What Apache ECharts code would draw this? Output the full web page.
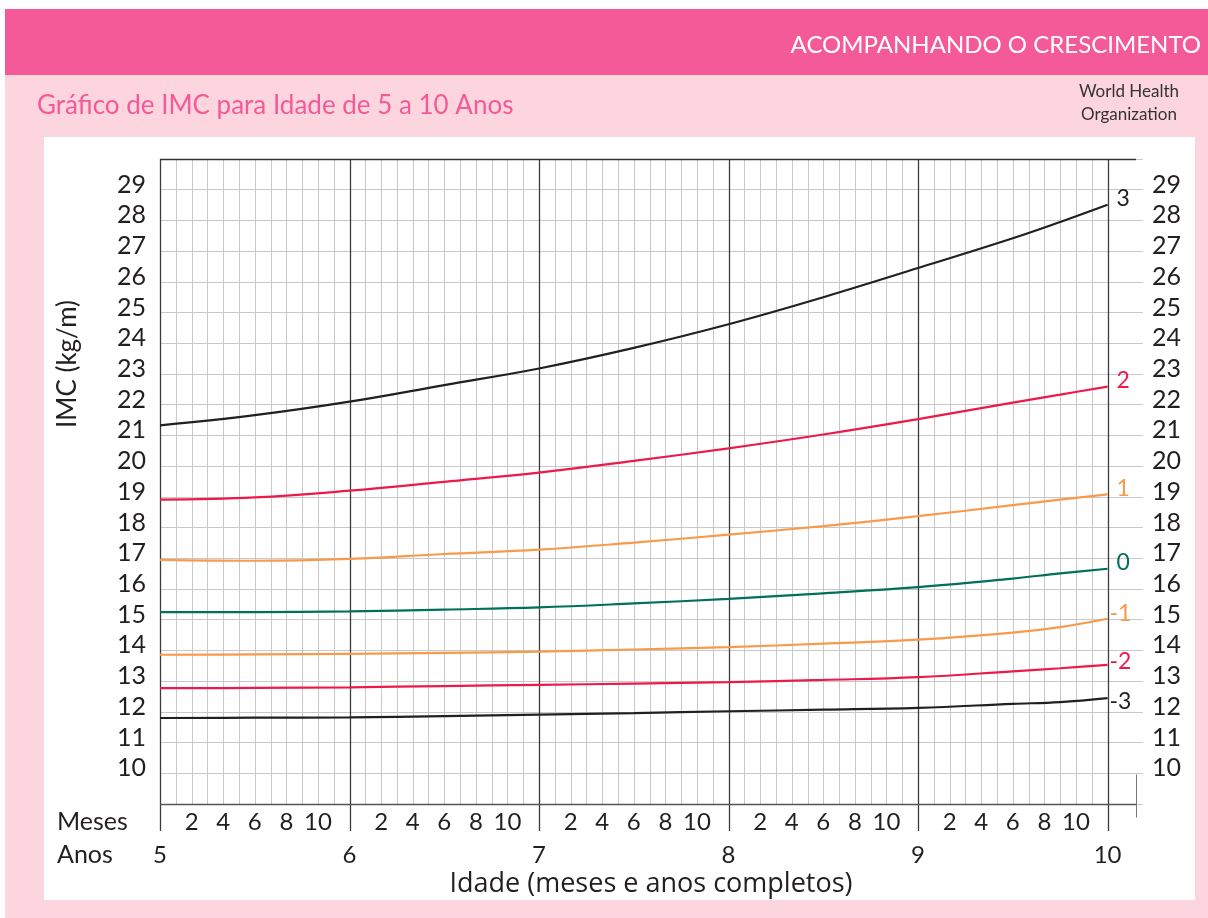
<!DOCTYPE html>
<html><head><meta charset="utf-8">
<script src="https://cdn.jsdelivr.net/npm/echarts@6/dist/echarts.min.js"></script>
<style>
html,body{margin:0;padding:0;background:#fff;}
#wrap{position:relative;width:1208px;height:918px;overflow:hidden;}
#band{position:absolute;left:5px;top:9px;width:1203px;height:66px;background:#f35a97;}
#pink{position:absolute;left:5px;top:75px;width:1203px;height:843px;background:#fdd5de;}
#panel{position:absolute;left:44px;top:137px;width:1151px;height:763px;background:#fff;}
#c{position:absolute;left:0;top:0;width:1208px;height:918px;}
</style>
</head><body>
<div id="wrap"><div id="band"></div><div id="pink"></div><div id="panel"></div><div id="c"></div></div>
<script>
// ---- data ----
const ageMonths = [60, 66, 72, 78, 84, 90, 96, 102, 108, 114, 117, 120];
const sdPlus3  = [21.33, 21.66, 22.10, 22.64, 23.18, 23.85, 24.62, 25.50, 26.45, 27.42, 27.95, 28.51];
const sdPlus2  = [18.91, 18.98, 19.20, 19.49, 19.79, 20.17, 20.58, 21.03, 21.53, 22.07, 22.33, 22.59];
const sdPlus1  = [16.95, 16.92, 16.98, 17.14, 17.28, 17.51, 17.77, 18.05, 18.37, 18.73, 18.91, 19.08];
const sdZero   = [15.25, 15.25, 15.27, 15.33, 15.40, 15.53, 15.68, 15.86, 16.06, 16.34, 16.51, 16.66];
const sdMinus1 = [13.86, 13.87, 13.89, 13.92, 13.96, 14.03, 14.11, 14.22, 14.35, 14.58, 14.76, 15.03];
const sdMinus2 = [12.77, 12.78, 12.80, 12.84, 12.88, 12.92, 12.97, 13.04, 13.13, 13.32, 13.42, 13.53];
const sdMinus3 = [11.80, 11.81, 11.82, 11.86, 11.91, 11.96, 12.02, 12.07, 12.13, 12.26, 12.32, 12.45];
const seriesNames = ['3', '2', '1', '0', '-1', '-2', '-3'];
const yearLabels = ['5', '6', '7', '8', '9', '10'];
const monthLabels = ['2', '4', '6', '8', '10'];

const FONT = 'Lato';
const TXT = '#231f20';
const xMin = 60, xMax = 121.8, yMin = 9, yMax = 30;
const gridMonths = [];
for (let m = 60; m <= 120; m++) gridMonths.push([m, yMax]);

const colors = ['#231f20', '#ec1a4b', '#f99a4b', '#00705a', '#f99a4b', '#ec1a4b', '#231f20'];
const values = [sdPlus3, sdPlus2, sdPlus1, sdZero, sdMinus1, sdMinus2, sdMinus3];
const labelOffsets = [[6, -6], [6, -6], [6, -6], [6, -6], [-1, -5], [-1, -3], [-1, 4]];

const chart = echarts.init(document.getElementById('c'), null, {renderer: 'canvas'});

const lineSeries = values.map((vals, i) => ({
  name: seriesNames[i],
  type: 'line',
  xAxisIndex: 0, yAxisIndex: 0,
  data: ageMonths.map((m, j) => [m, vals[j]]),
  showSymbol: false,
  smooth: 0.4,
  z: 5,
  lineStyle: {color: colors[i], width: 2.2},
  itemStyle: {color: colors[i]},
  endLabel: {
    show: true,
    formatter: seriesNames[i],
    color: colors[i],
    fontFamily: FONT,
    fontSize: 23,
    distance: 3,
    offset: labelOffsets[i]
  }
}));

const yLabelCommon = {
  fontSize: 25, color: TXT, fontFamily: FONT,
  verticalAlign: 'bottom', lineHeight: 10,
  formatter: v => (v >= 10 && v <= 29) ? String(v) : ''
};

const option = {
  animation: false,
  backgroundColor: 'transparent',
  textStyle: {fontFamily: FONT},
  grid: {left: 160, top: 159, width: 976, height: 645, containLabel: false},
  xAxis: [
    {
      type: 'value', min: xMin, max: xMax, interval: 1, position: 'bottom',
      axisLine: {show: false}, axisTick: {show: false}, splitLine: {show: false},
      axisLabel: {
        show: true, margin: 6, fontSize: 24, color: TXT, fontFamily: FONT,
        showMinLabel: true, showMaxLabel: true,
        formatter: v => {
          if (Math.abs(v - Math.round(v)) > 1e-6) return '';
          const mo = Math.round(v) % 12;
          return (mo > 0 && mo % 2 === 0 && v < 120) ? monthLabels[mo / 2 - 1] : '';
        }
      }
    },
    {
      type: 'value', min: xMin, max: xMax, interval: 12, position: 'bottom',
      axisLine: {show: false}, axisTick: {show: false}, splitLine: {show: false},
      axisLabel: {
        show: true, margin: 39, fontSize: 24, color: TXT, fontFamily: FONT,
        showMinLabel: true, showMaxLabel: true,
        formatter: v => {
          const y = v / 12;
          if (Math.abs(y - Math.round(y)) > 1e-6) return '';
          return yearLabels[Math.round(y) - 5] || '';
        }
      }
    }
  ],
  yAxis: [
    {
      type: 'value', min: yMin, max: yMax, interval: 1, position: 'left',
      axisLine: {show: false}, axisTick: {show: false},
      splitLine: {show: true, lineStyle: {color: '#c8c8c8', width: 1}},
      axisLabel: Object.assign({margin: 14}, yLabelCommon)
    },
    {
      type: 'value', min: yMin, max: yMax, interval: 1, position: 'right',
      axisLine: {show: false},
      axisTick: {show: true, length: 7, inside: false, lineStyle: {color: '#c8c8c8'}},
      splitLine: {show: false},
      axisLabel: Object.assign({margin: 16}, yLabelCommon)
    }
  ],
  graphic: [
    {type: 'text', right: 7, top: 33, z: 100,
     style: {text: 'ACOMPANHANDO O CRESCIMENTO', fill: '#fff', fontFamily: FONT, fontSize: 24}},
    {type: 'text', left: 37, top: 93, z: 100,
     style: {text: 'Gráfico de IMC para Idade de 5 a 10 Anos', fill: '#f35a97', fontFamily: FONT, fontSize: 26}},
    {type: 'text', x: 1129, y: 92, z: 100,
     style: {text: 'World Health', fill: '#333', fontFamily: FONT, fontSize: 17, align: 'center', verticalAlign: 'middle'}},
    {type: 'text', x: 1129, y: 115, z: 100,
     style: {text: 'Organization', fill: '#333', fontFamily: FONT, fontSize: 17, align: 'center', verticalAlign: 'middle'}},
    {type: 'text', x: 68, y: 364, rotation: Math.PI / 2, z: 100,
     style: {text: 'IMC (kg/m)', fill: TXT, fontFamily: FONT, fontSize: 26, align: 'center', verticalAlign: 'middle'}},
    {type: 'text', x: 57, y: 822, z: 100,
     style: {text: 'Meses', fill: TXT, fontFamily: FONT, fontSize: 25, align: 'left', verticalAlign: 'middle'}},
    {type: 'text', x: 57, y: 855, z: 100,
     style: {text: 'Anos', fill: TXT, fontFamily: FONT, fontSize: 25, align: 'left', verticalAlign: 'middle'}},
    {type: 'text', x: 651, y: 884, z: 100,
     style: {text: 'Idade (meses e anos completos)', fill: TXT, fontFamily: 'Open Sans', fontSize: 27, align: 'center', verticalAlign: 'middle'}}
  ],
  series: [
    {
      type: 'custom', name: 'grid-v', xAxisIndex: 0, yAxisIndex: 0, z: 1, clip: false, silent: true,
      data: gridMonths,
      renderItem: (params, api) => {
        const m = api.value(0);
        const top = api.coord([m, yMax]);
        const bot = api.coord([m, yMin]);
        const isYear = (m % 12 === 0);
        const x = Math.round(top[0]) + 0.5;
        return {
          type: 'line',
          shape: {x1: x, y1: top[1], x2: x, y2: isYear ? bot[1] + 27 : bot[1]},
          style: {stroke: isYear ? '#3c3c3c' : '#c8c8c8', lineWidth: isYear ? 1.3 : 1}
        };
      }
    },
    {
      type: 'custom', name: 'frame', xAxisIndex: 0, yAxisIndex: 0, z: 2, clip: false, silent: true,
      data: [[xMin, yMin]],
      renderItem: (params, api) => {
        const tl = api.coord([xMin, yMax]);
        const tr = api.coord([xMax, yMax]);
        const bl = api.coord([xMin, yMin]);
        const br = api.coord([xMax, yMin]);
        const ty = Math.round(tl[1]) + 0.5, by = Math.round(bl[1]) + 0.5, rx = Math.round(br[0]) + 0.5;
        return {
          type: 'group',
          children: [
            {type: 'line', shape: {x1: tl[0], y1: ty, x2: tr[0], y2: ty}, style: {stroke: '#333', lineWidth: 1.3}},
            {type: 'line', shape: {x1: bl[0], y1: by, x2: br[0], y2: by}, style: {stroke: '#555', lineWidth: 1.3}},
            {type: 'line', shape: {x1: rx, y1: by - 30, x2: rx, y2: by + 13}, style: {stroke: '#777', lineWidth: 1}}
          ]
        };
      }
    }
  ].concat(lineSeries)
};
chart.setOption(option);
</script>
</body></html>
